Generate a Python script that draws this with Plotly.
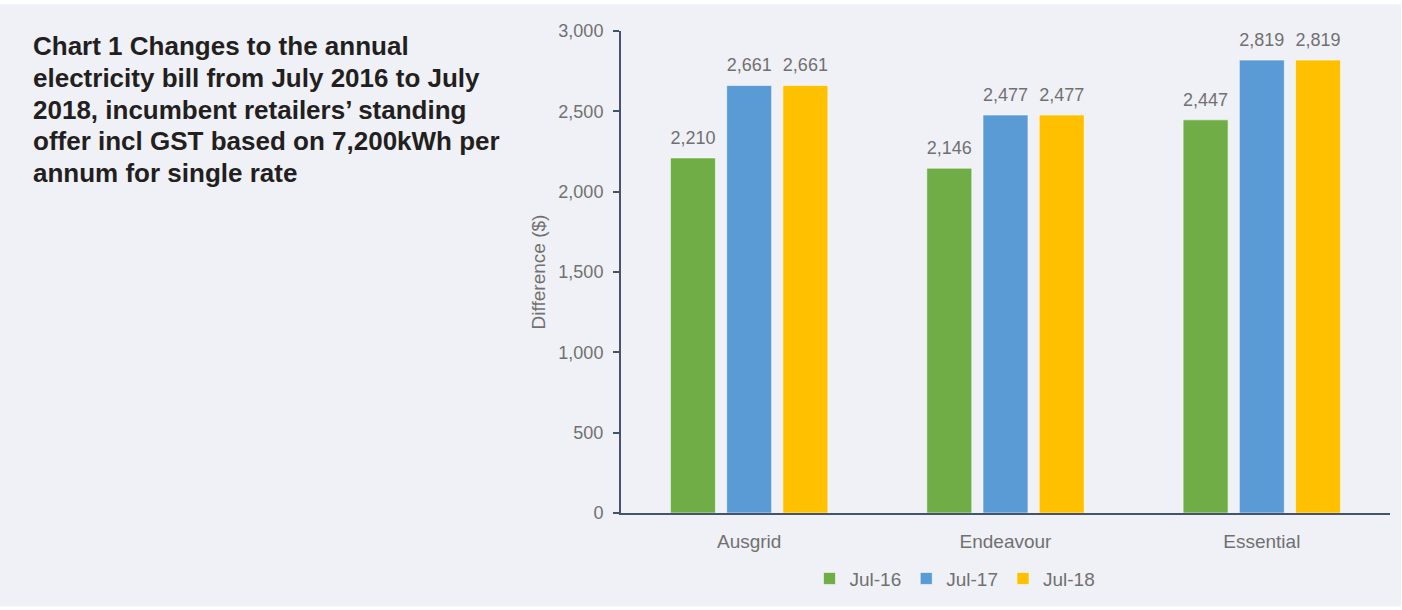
import plotly.graph_objects as go

categories = ["Ausgrid", "Endeavour", "Essential"]
series_names = ["Jul-16", "Jul-17", "Jul-18"]
jul16 = [2210, 2146, 2447]
jul17 = [2661, 2477, 2819]
jul18 = [2661, 2477, 2819]
colors = ["#70AD47", "#5B9BD5", "#FFC000"]
title_lines = ["Chart 1 Changes to the annual",
               "electricity bill from July 2016 to July",
               "2018, incumbent retailers’ standing",
               "offer incl GST based on 7,200kWh per",
               "annum for single rate"]

FONT = "Arial"
GRAY = "#707070"
PLOT_H = 485
PLOT_W = 769
BARGAP = 0.342

fig = go.Figure()
for name, vals, c in zip(series_names, [jul16, jul17, jul18], colors):
    fig.add_trace(go.Bar(
        x=categories, y=vals, name=name,
        marker=dict(color=c, line=dict(color="rgba(255,255,255,0.55)", width=1)),
        hoverinfo="x+y+name",
    ))
for name, vals in zip(series_names, [jul16, jul17, jul18]):
    fig.add_trace(go.Scatter(
        x=categories, y=vals, mode="markers+text", showlegend=False,
        text=[f"{v:,}" for v in vals], textposition="top center",
        marker=dict(size=14, color="rgba(0,0,0,0)"),
        textfont=dict(family=FONT, size=18, color=GRAY),
        cliponaxis=False, hoverinfo="skip",
    ))

annotations = []
for i, line in enumerate(title_lines):
    annotations.append(dict(
        text=line, xref="paper", yref="paper",
        x=(31 - 621) / PLOT_W, y=(516 - (46 + 32 * i)) / PLOT_H,
        xanchor="left", yanchor="middle", align="left", showarrow=False,
        font=dict(family=FONT, size=26, color="#231F20", weight="bold")))

fig.update_layout(
    width=1402, height=610,
    margin=dict(l=621, r=12, t=31, b=94),
    paper_bgcolor="white", plot_bgcolor="rgba(0,0,0,0)",
    barmode="group", bargap=BARGAP, bargroupgap=0.2,
    scattermode="group", scattergap=BARGAP,
    font=dict(family=FONT, size=18, color=GRAY),
    showlegend=True,
    legend=dict(orientation="h", x=(955 - 621) / PLOT_W, xanchor="center",
                y=-66 / PLOT_H, yanchor="middle",
                font=dict(family=FONT, size=19, color=GRAY),
                itemwidth=30, traceorder="normal", bgcolor="rgba(0,0,0,0)"),
    shapes=[dict(type="rect", xref="paper", yref="paper", layer="below",
                 x0=-621 / PLOT_W, x1=(1401 - 621) / PLOT_W,
                 y0=-94 / PLOT_H, y1=(516 - 4) / PLOT_H,
                 fillcolor="#F0F1F6", line=dict(width=0))],
    annotations=annotations,
)
fig.update_xaxes(
    showline=True, linecolor="#44546A", linewidth=2, ticks="", showgrid=False,
    tickfont=dict(family=FONT, size=19, color=GRAY), ticklabelstandoff=10,
)
fig.update_yaxes(
    range=[0, 3000], dtick=500, tickformat=",", showgrid=False, zeroline=False,
    showline=True, linecolor="#44546A", linewidth=2, ticks="outside", ticklen=6,
    tickcolor="#44546A", tickwidth=2, ticklabelstandoff=6,
    tickfont=dict(family=FONT, size=18, color=GRAY),
    title=dict(text="Difference ($)", font=dict(family=FONT, size=19, color=GRAY), standoff=8),
)

fig.write_html("out.html")
